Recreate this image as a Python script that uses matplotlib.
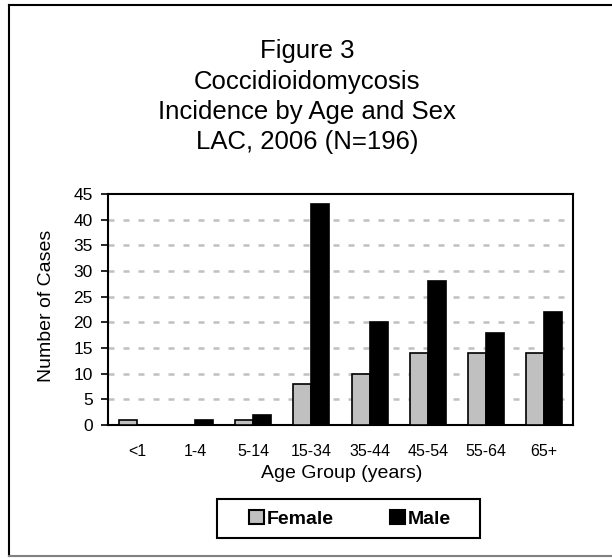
import numpy as np
import matplotlib.pyplot as plt
from matplotlib.patches import Rectangle

plt.rcParams['font.family'] = ['Liberation Sans', 'DejaVu Sans']

age_groups = ['<1', '1-4', '5-14', '15-34', '35-44', '45-54', '55-64', '65+']
female = [1, 0, 1, 8, 10, 14, 14, 14]
male = [0, 1, 2, 43, 20, 28, 18, 22]

W, H = 612, 558
fig = plt.figure(figsize=(W / 100, H / 100), dpi=100)

# outer frame
fig.add_artist(plt.Line2D([9 / W, 9 / W], [1 - 5 / H, 1 - 556 / H], color='black', lw=1.5))
fig.add_artist(plt.Line2D([9 / W, 1], [1 - 5 / H, 1 - 5 / H], color='black', lw=1.5))
fig.add_artist(plt.Line2D([9 / W, 1], [1 - 556 / H, 1 - 556 / H], color='#808080', lw=1.5))

title_lines = ['Figure 3', 'Coccidioidomycosis', 'Incidence by Age and Sex', 'LAC, 2006 (N=196)']
baselines = [58, 88.5, 119, 149]
for line, yb in zip(title_lines, baselines):
    fig.text(307 / W, 1 - yb / H, line, ha='center', va='baseline', fontsize=18.5)

ax = fig.add_axes([108 / W, 1 - 425 / H, (573 - 108) / W, (425 - 194) / H])
x = np.arange(len(age_groups))
w = 0.31
ax.bar(x - w / 2, female, w, color='#c0c0c0', edgecolor='black', lw=1.2, label='Female', zorder=3)
ax.bar(x + w / 2, male, w, color='black', edgecolor='black', lw=1.2, label='Male', zorder=3)

ax.set_xlim(-0.5, len(age_groups) - 0.5)
ax.set_ylim(0, 45)
ax.set_yticks(range(0, 46, 5))
ax.set_xticks(x)
ax.set_xticklabels(age_groups, fontsize=11.5)
ax.tick_params(axis='x', length=0, pad=14)
ax.tick_params(axis='y', labelsize=12.5, direction='out', length=5, width=1.2, pad=6)
for yv in range(5, 45, 5):
    ax.axhline(yv, color='#c0c0c0', lw=1.8, ls=(0, (2.4, 3.6)), zorder=1)
for s in ax.spines.values():
    s.set_linewidth(1.5)
ax.set_xlabel('Age Group (years)', fontsize=14)
ax.set_ylabel('Number of Cases', fontsize=14)
ax.xaxis.set_label_coords((342 - 108) / 465, -(473 - 425) / 231)
ax.xaxis.label.set_va('center')
ax.yaxis.set_label_coords(-(108 - 47) / 465, (425 - 306) / 231)
ax.yaxis.label.set_va('center')

# legend box drawn separately so its padding matches the reference
fig.add_artist(Rectangle((217 / W, 1 - 538 / H), (480 - 217) / W, (538 - 499) / H,
                         transform=fig.transFigure, fill=False, edgecolor='black', lw=1.5))
leg = fig.legend(loc='center', bbox_to_anchor=(350 / W, 1 - 519 / H), ncol=2, frameon=False,
                 prop={'weight': 'bold', 'size': 14},
                 handlelength=0.75, handleheight=0.75, handletextpad=0.15, columnspacing=2.9,
                 borderpad=0.2)
for h in leg.legend_handles:
    h.set_edgecolor('black')
    h.set_linewidth(1.5)

fig.savefig('out.png', dpi=100)
